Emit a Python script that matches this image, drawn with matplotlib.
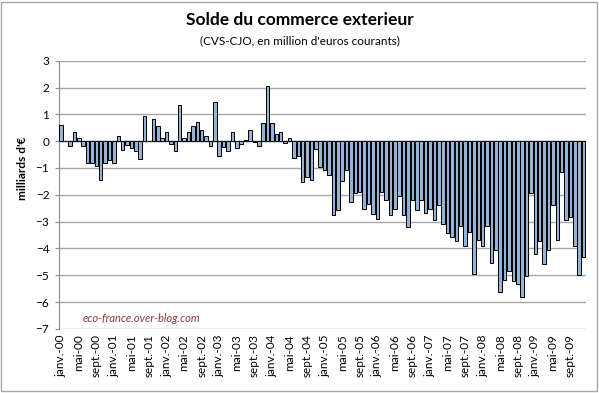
import matplotlib
matplotlib.use("Agg")
import matplotlib.pyplot as plt
import numpy as np
from matplotlib.patches import Rectangle

plt.rcParams['font.family'] = ['Lato', 'DejaVu Sans']

# monthly trade balance, janv. 2000 -> dec. 2009 (milliards d'euros)
solde_2000 = [0.61, 0.02, -0.19, 0.35, 0.12, -0.19, -0.80, -0.80, -0.93, -1.43, -0.80, -0.70]
solde_2001 = [-0.83, 0.21, -0.34, -0.15, -0.24, -0.36, -0.67, 0.95, 0.02, 0.83, 0.58, 0.11]
solde_2002 = [0.35, -0.12, -0.37, 1.34, 0.12, 0.35, 0.56, 0.73, 0.40, 0.21, -0.18, 1.47]
solde_2003 = [-0.56, -0.21, -0.35, 0.35, -0.24, -0.09, 0.04, 0.43, -0.02, -0.19, 0.66, 2.06]
solde_2004 = [0.67, 0.26, 0.35, -0.07, 0.11, -0.64, -0.57, -1.51, -1.34, -1.45, -0.29, -0.98]
solde_2005 = [-1.09, -1.28, -2.75, -2.55, -1.49, -1.06, -2.26, -1.95, -1.90, -2.54, -2.36, -2.70]
solde_2006 = [-2.92, -1.91, -2.19, -2.75, -2.53, -2.06, -2.77, -3.20, -2.19, -2.55, -2.18, -2.68]
solde_2007 = [-2.52, -2.94, -2.39, -3.10, -3.44, -3.59, -3.71, -3.18, -3.89, -3.39, -4.95, -3.70]
solde_2008 = [-3.92, -3.18, -4.53, -4.05, -5.62, -5.18, -4.85, -5.20, -5.34, -5.81, -5.01, -1.93]
solde_2009 = [-4.21, -3.72, -4.57, -4.05, -2.39, -3.67, -1.16, -2.94, -2.83, -3.92, -5.00, -4.32]

solde = (solde_2000 + solde_2001 + solde_2002 + solde_2003 + solde_2004
         + solde_2005 + solde_2006 + solde_2007 + solde_2008 + solde_2009)

tick_labels = ['janv.-00', 'mai-00', 'sept.-00', 'janv.-01', 'mai-01', 'sept.-01',
               'janv.-02', 'mai-02', 'sept.-02', 'janv.-03', 'mai-03', 'sept.-03',
               'janv.-04', 'mai-04', 'sept.-04', 'janv.-05', 'mai-05', 'sept.-05',
               'janv.-06', 'mai-06', 'sept.-06', 'janv.-07', 'mai-07', 'sept.-07',
               'janv.-08', 'mai-08', 'sept.-08', 'janv.-09', 'mai-09', 'sept.-09']

x = np.arange(len(solde))

fig = plt.figure(figsize=(5.99, 3.93), dpi=100)
ax = fig.add_axes([0.0985, 0.163, 0.8795, 0.6826])

ax.bar(x, solde, width=0.8, color='#95B3D7', edgecolor='black', linewidth=0.7, zorder=3)

ax.set_xlim(-0.5, len(solde) - 0.5)
ax.set_ylim(-7, 3)
ax.set_yticks(np.arange(-7, 4, 1))
ax.yaxis.grid(True, color='#A6A6A6', linewidth=1.0, zorder=0)
ax.axhline(0, color='#8C8C8C', linewidth=1.0, zorder=2)

ax.set_xticks(x[::4])
ax.set_xticklabels(tick_labels, rotation=90, fontsize=8.5)
ax.tick_params(axis='x', length=0, pad=4)
ax.tick_params(axis='y', labelsize=8.5, length=3, color='#8C8C8C', pad=4)

for s in ['top', 'right', 'bottom']:
    ax.spines[s].set_visible(False)
ax.spines['left'].set_color('#8C8C8C')

ax.set_ylabel("milliards d'€", fontsize=8.5, fontweight='bold')
ax.yaxis.set_label_coords(-0.058, 0.6)

fig.text(0.5, 0.95, 'Solde du commerce exterieur', ha='center', va='center',
         fontsize=12.5, fontweight='bold')
fig.text(0.5, 0.897, "(CVS-CJO, en million d'euros courants)", ha='center', va='center',
         fontsize=8.5)

ax.text(0.045, 0.025, 'eco-france.over-blog.com', transform=ax.transAxes,
        fontsize=8, style='italic', color='#8B3A3A')

fig.patches.append(Rectangle((0.002, 0.004), 0.995, 0.99, transform=fig.transFigure,
                             fill=False, edgecolor='#A6A6A6', linewidth=1.0))

fig.savefig('out.png', dpi=100)
